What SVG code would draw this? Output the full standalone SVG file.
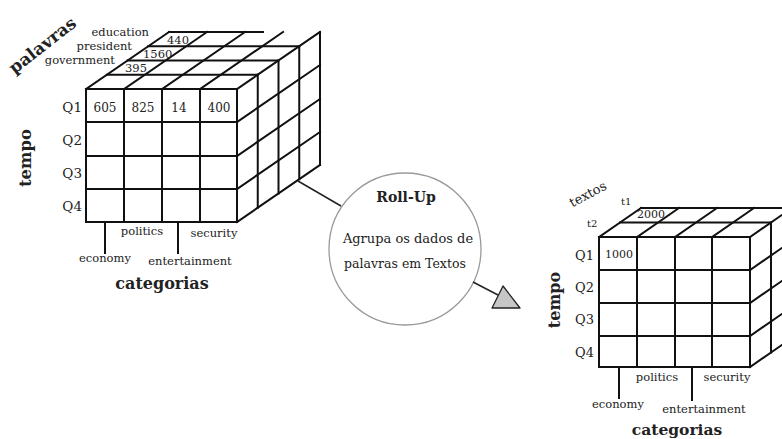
<svg xmlns="http://www.w3.org/2000/svg" width="782" height="439" viewBox="0 0 782 439">
<style>
.ln{stroke:#111;stroke-width:2;fill:none;stroke-linecap:square}
.t{font-family:"DejaVu Serif","Liberation Serif",serif;fill:#222}
.b{font-family:"DejaVu Serif","Liberation Serif",serif;font-weight:bold;fill:#222}
.m{text-anchor:middle}
.e{text-anchor:end}
.con{stroke:#222;stroke-width:1.5;fill:none}
</style>
<rect width="782" height="439" fill="#fff"/>
<g id="cube-palavras">
  <rect class="ln" x="86" y="89" width="151" height="133"/>
  <path class="ln" d="M124 89V222M162 89V222M200 89V222M86 122H237M86 156H237M86 189H237"/>
  <path class="ln" d="M86 89L169 32M124 89L207 32M162 89L245 32M200 89L283 32M237 89L320 32"/>
  <path class="ln" d="M106.75 74.75H257.75M127.5 60.5H278.5M148.25 46.25H299.25M169 32H263"/>
  <path class="ln" d="M257.75 74.75V207.75M278.5 60.5V193.5M299.25 46.25V179.25M320 32V165"/>
  <path class="ln" d="M237 122L320 65M237 156L320 99M237 189L320 132M237 222L320 165"/>
  <path class="ln" d="M105 222V253M178 222V253"/>
  <text class="b m" transform="translate(46 50) rotate(-38)" font-size="17">palavras</text>
  <text class="t e" x="149" y="36" font-size="11.5">education</text>
  <text class="t e" x="132" y="50" font-size="11.5">president</text>
  <text class="t e" x="115" y="64" font-size="11.5">government</text>
  <text class="t" x="167" y="44" font-size="11.5">440</text>
  <text class="t" x="143" y="58" font-size="11.5">1560</text>
  <text class="t" x="125" y="72" font-size="11.5">395</text>
  <text class="t e" x="82" y="112" font-size="13.5">Q1</text>
  <text class="t e" x="82" y="145" font-size="13.5">Q2</text>
  <text class="t e" x="82" y="178" font-size="13.5">Q3</text>
  <text class="t e" x="82" y="211" font-size="13.5">Q4</text>
  <text class="t m" x="105" y="112" font-size="12">605</text>
  <text class="t m" x="143" y="112" font-size="12">825</text>
  <text class="t m" x="179" y="112" font-size="12">14</text>
  <text class="t m" x="219" y="112" font-size="12">400</text>
  <text class="b m" transform="translate(31 158) rotate(-90)" font-size="16.5">tempo</text>
  <text class="t m" x="142" y="235" font-size="11.5">politics</text>
  <text class="t m" x="214" y="237" font-size="11.5">security</text>
  <text class="t m" x="105" y="262" font-size="11.5">economy</text>
  <text class="t m" x="190" y="265" font-size="11.5">entertainment</text>
  <text class="b m" x="162" y="289" font-size="16">categorias</text>
</g>
<g id="rollup">
  <circle cx="405" cy="249" r="76" fill="#fff" stroke="#9a9a9a" stroke-width="1.3"/>
  <text class="b m" x="406" y="202" font-size="14">Roll-Up</text>
  <text class="t m" x="408" y="243" font-size="13">Agrupa os dados de</text>
  <text class="t m" x="405" y="268" font-size="12.5">palavras em Textos</text>
</g>
<g id="cube-textos">
  <rect class="ln" x="599" y="237" width="151" height="130"/>
  <path class="ln" d="M637 237V367M675 237V367M712 237V367M599 270H750M599 303H750M599 336H750"/>
  <path class="ln" d="M599 237L641 208M637 237L679 208M675 237L717 208M712 237L754 208M750 237L792 208"/>
  <path class="ln" d="M620 222.5H771M641 208H792"/>
  <path class="ln" d="M771 222.5V352.5"/>
  <path class="ln" d="M750 270L792 241M750 303L792 274M750 336L792 307M750 367L792 338"/>
  <path class="ln" d="M619 367V398M692 367V400"/>
  <text class="t m" transform="translate(590 198) rotate(-28)" font-size="13">textos</text>
  <text class="t" x="621" y="205" font-size="10">t1</text>
  <text class="t" x="587" y="227" font-size="10">t2</text>
  <text class="t" x="637" y="218" font-size="11">2000</text>
  <text class="t" x="605" y="258" font-size="11">1000</text>
  <text class="t e" x="594" y="260" font-size="13">Q1</text>
  <text class="t e" x="594" y="292" font-size="13">Q2</text>
  <text class="t e" x="594" y="324" font-size="13">Q3</text>
  <text class="t e" x="594" y="357" font-size="13">Q4</text>
  <text class="b m" transform="translate(560 300) rotate(-90)" font-size="16">tempo</text>
  <text class="t m" x="657" y="381" font-size="11.5">politics</text>
  <text class="t m" x="727" y="381" font-size="11.5">security</text>
  <text class="t m" x="618" y="408" font-size="11.5">economy</text>
  <text class="t m" x="704" y="413" font-size="11.5">entertainment</text>
  <text class="b m" x="677" y="435" font-size="15.5">categorias</text>
</g>
<g id="connectors">
  <line class="con" x1="298" y1="181" x2="341" y2="206"/>
  <line class="con" x1="473" y1="282" x2="498" y2="295"/>
  <polygon points="503,286 492,308 520,308" fill="#c6c6c6" stroke="#222" stroke-width="1.3" stroke-linejoin="round"/>
</g>
</svg>
